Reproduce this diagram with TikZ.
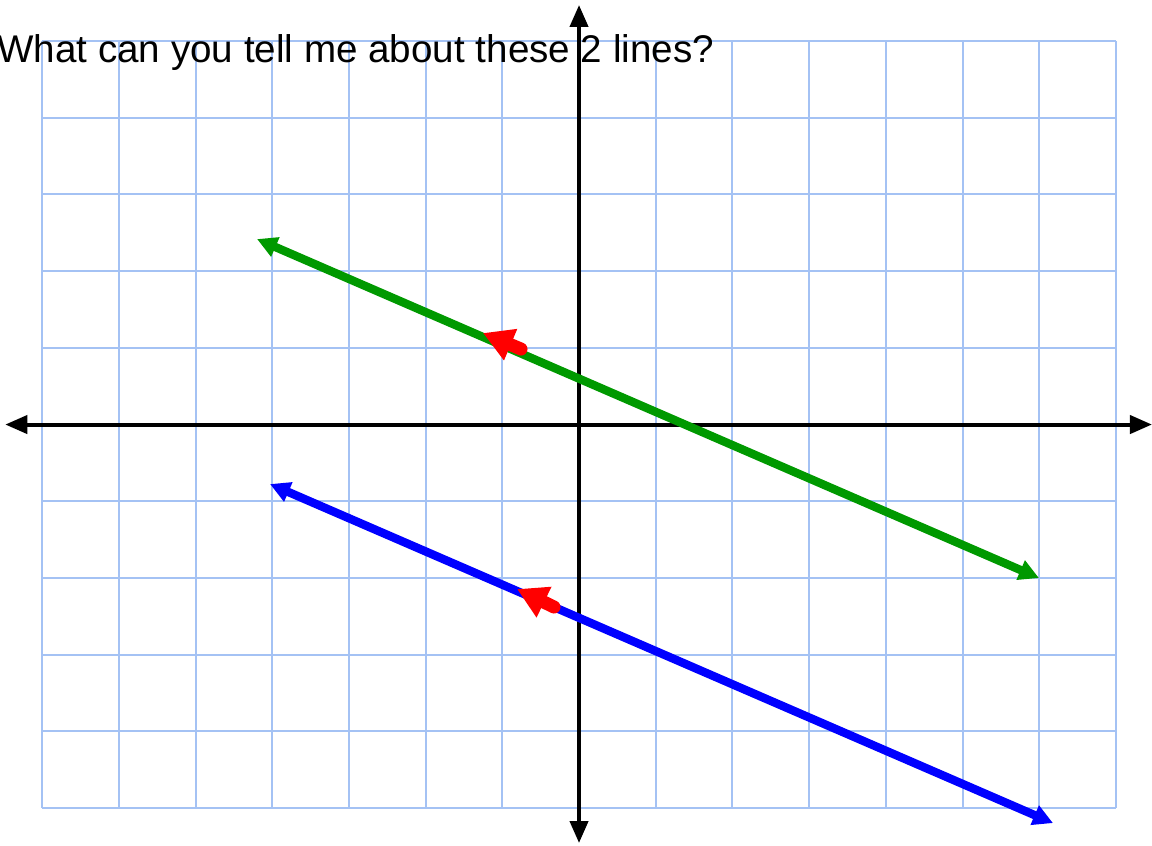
\documentclass[tikz,border=0pt]{standalone}
\usepackage{fontspec}
\setmainfont{Liberation Sans}
\usepackage{tikz}
\usetikzlibrary{arrows.meta}
\definecolor{gridx}{HTML}{A4C2F4}
\definecolor{greenx}{HTML}{009900}
\definecolor{bluex}{HTML}{0000FF}
\definecolor{redx}{HTML}{FF0000}
\tikzset{
  gr/.style={gridx,line width=1pt,step=1},
  ax/.style={{Triangle[length=11pt,width=9pt]}-{Triangle[length=11pt,width=9pt]},line width=2pt,black},
  ln/.style={{Triangle[length=10pt,width=10pt]}-{Triangle[length=10pt,width=10pt]},line width=4.2pt},
  dirx/.style={-{Triangle[length=15pt,width=16pt]},line width=6.5pt,redx,line cap=round}
}

\begin{document}
\begin{tikzpicture}[x=38.35pt,y=38.35pt]
\useasboundingbox (-7.549,-5.482) rectangle (7.470,5.535);
\draw[gr] (-7,-5) grid (7,5);
\node[anchor=base west,inner sep=0pt,font=\fontsize{19.3}{23}\selectfont] (q) at (-7.588,4.726) {What can you tell me about these 2 lines?};
% axes
\coordinate (xl) at (-7.48,0);
\coordinate (xr) at (7.47,0);
\coordinate (yb) at (0,-5.456);
\coordinate (yt) at (0,5.47);
\draw[ax] (xl)--(xr);
\draw[ax] (yb)--(yt);
% the two lines
\coordinate (g1) at (-4.198,2.418);
\coordinate (g2) at (5.997,-2.001);
\coordinate (b1) at (-4.029,-0.776);
\coordinate (b2) at (6.18,-5.196);
\draw[ln,greenx] (g1)--(g2);
\draw[ln,bluex] (b1)--(b2);
% direction marks
\coordinate (gt) at (-0.756,0.984);
\coordinate (gh) at (-1.252,1.193);
\coordinate (bt) at (-0.326,-2.379);
\coordinate (bh) at (-0.808,-2.145);
\draw[dirx] (gt)--(gh);
\draw[dirx] (bt)--(bh);
\end{tikzpicture}
\end{document}
